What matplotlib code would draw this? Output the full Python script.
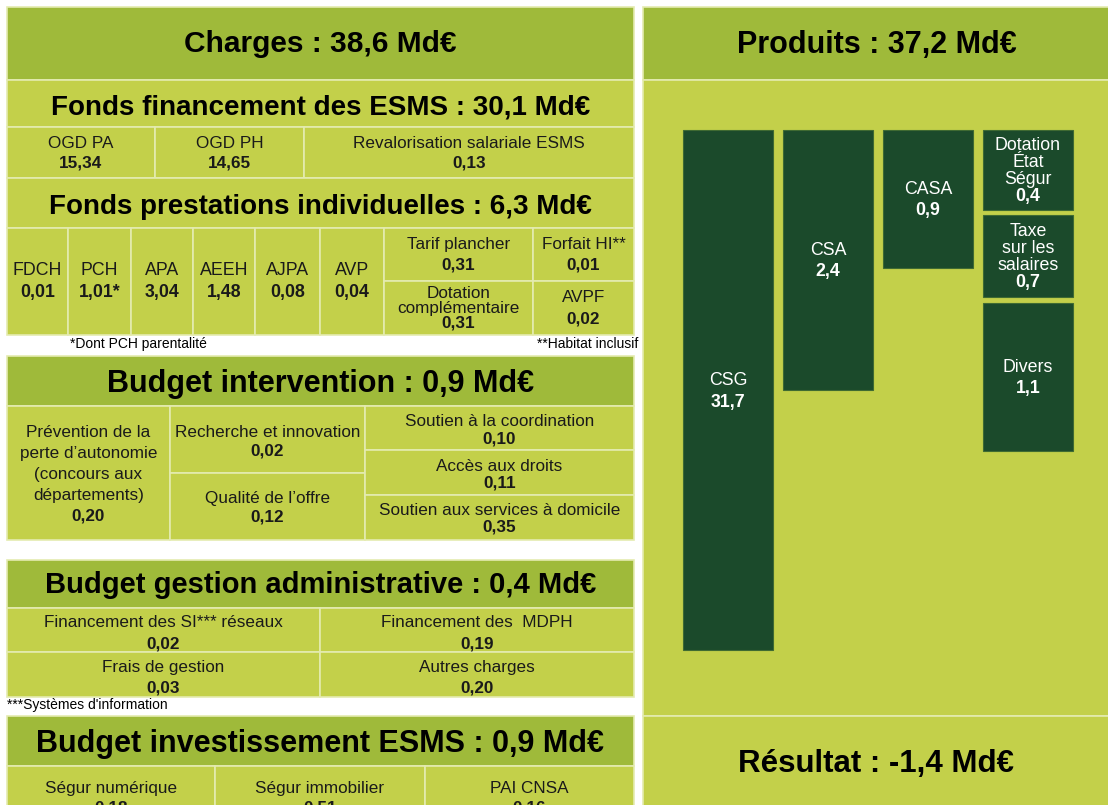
import matplotlib
matplotlib.use("Agg")
import matplotlib.pyplot as plt
from matplotlib.patches import Rectangle

plt.rcParams['font.family'] = ['Liberation Sans', 'DejaVu Sans']

# ---- data ----
total_charges = 38.6
total_produits = 37.2
resultat = -1.4

esms_total = 30.1
esms_labels = ["OGD PA", "OGD PH", "Revalorisation salariale ESMS"]
esms_values = [15.34, 14.65, 0.13]

prest_total = 6.3
prest_labels = ["FDCH", "PCH", "APA", "AEEH", "AJPA", "AVP",
                "Tarif plancher", "Dotation\ncomplémentaire", "Forfait HI**", "AVPF"]
prest_values = [0.01, 1.01, 3.04, 1.48, 0.08, 0.04, 0.31, 0.31, 0.01, 0.02]
prest_marks = ["", "*", "", "", "", "", "", "", "", ""]

interv_total = 0.9
interv_labels = ["Prévention de la\nperte d\u2019autonomie\n(concours aux\ndépartements)",
                 "Recherche et innovation", "Qualité de l\u2019offre",
                 "Soutien à la coordination", "Accès aux droits",
                 "Soutien aux services à domicile"]
interv_values = [0.20, 0.02, 0.12, 0.10, 0.11, 0.35]

gestion_total = 0.4
gestion_labels = ["Financement des SI*** réseaux", "Financement des  MDPH",
                  "Frais de gestion", "Autres charges"]
gestion_values = [0.02, 0.19, 0.03, 0.20]

invest_total = 0.9
invest_labels = ["Ségur numérique", "Ségur immobilier", "PAI CNSA"]
invest_values = [0.18, 0.51, 0.16]

prod_labels = ["CSG", "CSA", "CASA", "Dotation\nÉtat\nSégur", "Taxe\nsur les\nsalaires", "Divers"]
prod_values = [31.7, 2.4, 0.9, 0.4, 0.7, 1.1]

# ---- style ----
DARK = "#9fba3a"
LIGHT = "#c3d04a"
BAR = "#1b4a2b"
EDGE = "#e4ebb0"
TXT = 12.3


def fr(v, nd):
    return f"{v:.{nd}f}".replace(".", ",")


fig = plt.figure(figsize=(11.08, 8.05), dpi=100)
ax = fig.add_axes([0, 0, 1, 1])
ax.set_xlim(0, 1108)
ax.set_ylim(805, 0)
ax.axis("off")


def box(x0, y0, x1, y1, color=LIGHT):
    ax.add_patch(Rectangle((x0, y0), x1 - x0, y1 - y0, facecolor=color,
                           edgecolor=EDGE, linewidth=1.2))


def header(x0, y0, x1, y1, title, size=21, color=DARK, dy=1):
    box(x0, y0, x1, y1, color)
    ax.text((x0 + x1) / 2, (y0 + y1) / 2 + dy, title, ha="center", va="center",
            fontsize=size, fontweight="bold", color="black")


def cell(x0, y0, x1, y1, label, value, step=20, size=TXT, color="#1a1a1a", dy=0):
    box(x0, y0, x1, y1)
    lines = label.split("\n") + [value]
    n = len(lines)
    cy = (y0 + y1) / 2 + dy
    for i, ln in enumerate(lines):
        y = cy + (i - (n - 1) / 2) * step
        bold = i == n - 1
        ax.text((x0 + x1) / 2, y, ln, ha="center", va="center", fontsize=size,
                fontweight="bold" if bold else "normal", color=color)


L0, L1 = 7, 634

# Charges
header(L0, 7, L1, 80, f"Charges : {fr(total_charges, 1)} Md€", size=21.5)

# Fonds financement des ESMS
header(L0, 80, L1, 127, f"Fonds financement des ESMS : {fr(esms_total, 1)} Md€", size=20, color=LIGHT, dy=4)
esms_x = [L0, 155, 304, L1]
for i in range(3):
    cell(esms_x[i], 127, esms_x[i + 1], 178, esms_labels[i], fr(esms_values[i], 2), dy=1)

# Fonds prestations individuelles
header(L0, 178, L1, 228, f"Fonds prestations individuelles : {fr(prest_total, 1)} Md€", size=20, color=LIGHT, dy=4)
prest_x = [L0, 68, 131, 193, 255, 320, 384]
for i in range(6):
    cell(prest_x[i], 228, prest_x[i + 1], 335, prest_labels[i],
         fr(prest_values[i], 2) + prest_marks[i], step=22, size=12.8)
cell(384, 228, 533, 281, prest_labels[6], fr(prest_values[6], 2), step=21)
cell(384, 281, 533, 335, prest_labels[7], fr(prest_values[7], 2), step=15)
cell(533, 228, L1, 281, prest_labels[8], fr(prest_values[8], 2), step=21)
cell(533, 281, L1, 335, prest_labels[9], fr(prest_values[9], 2), step=22)
ax.text(70, 344, "*Dont PCH parentalité", ha="left", va="center", fontsize=10)
ax.text(638, 344, "**Habitat inclusif", ha="right", va="center", fontsize=10)

# Budget intervention
header(L0, 356, L1, 406, f"Budget intervention : {fr(interv_total, 1)} Md€", size=22, dy=3)
cell(L0, 406, 170, 540, interv_labels[0], fr(interv_values[0], 2), step=21, dy=1)
cell(170, 406, 365, 473, interv_labels[1], fr(interv_values[1], 2), step=18, dy=2)
cell(170, 473, 365, 540, interv_labels[2], fr(interv_values[2], 2), step=18, dy=1)
cell(365, 406, L1, 450, interv_labels[3], fr(interv_values[3], 2), step=17, dy=2)
cell(365, 450, L1, 495, interv_labels[4], fr(interv_values[4], 2), step=17, dy=2)
cell(365, 495, L1, 540, interv_labels[5], fr(interv_values[5], 2), step=17, dy=1)

# Budget gestion administrative
header(L0, 560, L1, 608, f"Budget gestion administrative : {fr(gestion_total, 1)} Md€", size=21)
gx = [L0, 320, L1]
gy = [608, 652, 697]
for k in range(4):
    r, c = divmod(k, 2)
    cell(gx[c], gy[r], gx[c + 1], gy[r + 1], gestion_labels[k], fr(gestion_values[k], 2),
         step=21, dy=3)
ax.text(7, 705, "***Systèmes d'information", ha="left", va="center", fontsize=10)

# Budget investissement ESMS
header(L0, 716, L1, 766, f"Budget investissement ESMS : {fr(invest_total, 1)} Md€", size=22, dy=3)
ix = [L0, 215, 425, L1]
for i in range(3):
    cell(ix[i], 766, ix[i + 1], 830, invest_labels[i], fr(invest_values[i], 2), step=20)

# Produits panel
R0, R1 = 643, 1108
header(R0, 7, R1 + 2, 80, f"Produits : {fr(total_produits, 1)} Md€", size=22)
box(R0, 80, R1 + 2, 716)
header(R0, 716, R1 + 2, 810, f"Résultat : {fr(resultat, 1)} Md€", size=22.5, color=LIGHT)

# product blocks (layout only)
bar_x = [728, 828, 928, 1028, 1028, 1028]
bar_top = [130, 130, 130, 130, 215, 303]
bar_h = [520, 260, 138, 80, 82, 148]
bar_step = [22, 21, 21, 17, 17, 21]
ax.bar(bar_x, bar_h, width=90, bottom=bar_top, color=BAR, edgecolor="#3f6a32", linewidth=0.8)
for xc, yt, h, lab, v, st in zip(bar_x, bar_top, bar_h, prod_labels, prod_values, bar_step):
    lines = lab.split("\n") + [fr(v, 1)]
    n = len(lines)
    cy = yt + h / 2 + 1
    for i, ln in enumerate(lines):
        ax.text(xc, cy + (i - (n - 1) / 2) * st, ln, ha="center", va="center",
                fontsize=12.8, color="white", fontweight="bold" if i == n - 1 else "normal")

fig.savefig("out.png", dpi=100, facecolor="white")
